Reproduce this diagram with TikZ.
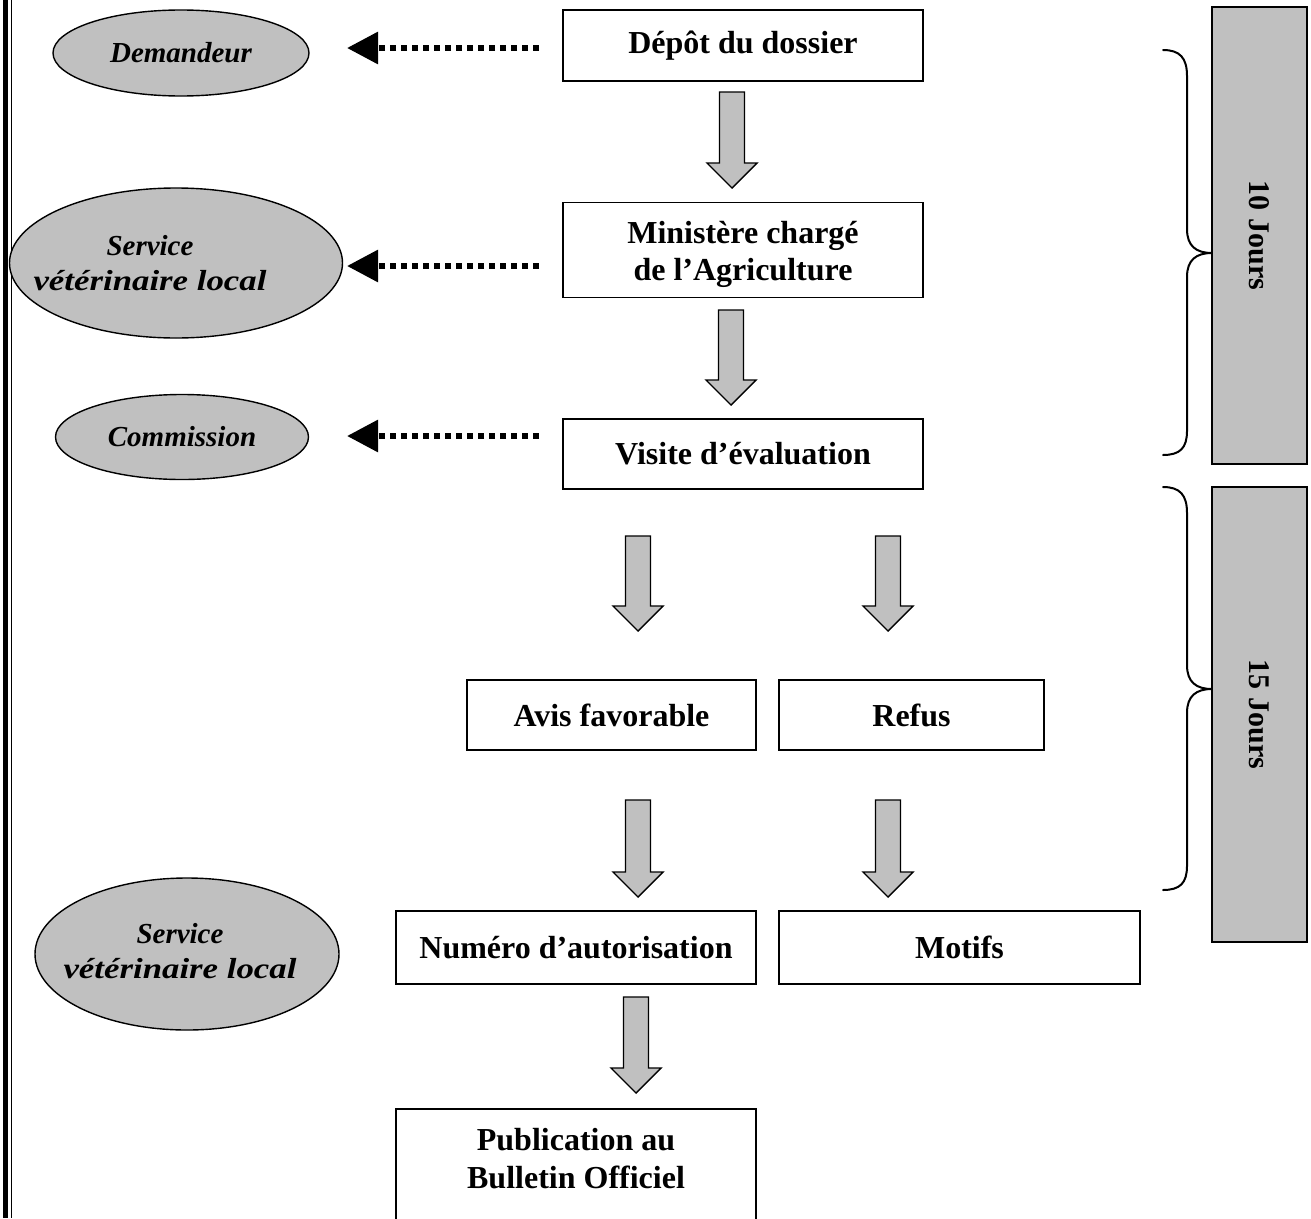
\documentclass[tikz,border=0pt]{standalone}
\usepackage{fontspec}
\setmainfont{Liberation Serif}
\usetikzlibrary{shapes.geometric,arrows.meta}
\definecolor{boxgray}{HTML}{C0C0C0}
\newcommand\fatarrow[3]{%
  \draw[fatarr] (#1-12.5,#2) -- (#1+12.5,#2) -- (#1+12.5,#3-25) -- (#1+25,#3-25)
    -- (#1,#3) -- (#1-25,#3-25) -- (#1-12.5,#3-25) -- cycle;}
\newcommand\wideline[1]{\scalebox{1.2}[1]{#1}}
\begin{document}
\begin{tikzpicture}[x=1pt,y=-1pt,
  stepbox/.style={draw, line width=1.8pt, fill=white, inner sep=0pt, align=center,
     font=\fontsize{32}{37}\selectfont\bfseries},
  actor/.style={ellipse, draw, line width=1.4pt, fill=boxgray, inner sep=0pt, align=center,
     font=\fontsize{29}{35}\selectfont\bfseries\itshape},
  actortext/.style={inner sep=0pt, align=center,
     font=\fontsize{29}{35}\selectfont\bfseries\itshape},
  fatarr/.style={draw, line width=1.4pt, fill=boxgray, line join=miter},
  dotarr/.style={line width=6pt, dash pattern=on 6pt off 5pt,
     -{Triangle[length=31pt,width=31pt]}},
  daybox/.style={draw, line width=1.6pt, fill=boxgray, inner sep=0pt},
  brace/.style={line width=2pt, line cap=round}
]
\useasboundingbox (0,0) rectangle (1311,1218);
\clip (0,0) rectangle (1311,1218);
\fill[white] (0,0) rectangle (1311,1218);

% left double border
\draw[line width=5.5pt] (5.5,0) -- (5.5,1218);
\draw[line width=1.3pt] (11.3,0) -- (11.3,1218);

% process boxes
\node[stepbox, minimum width=360, minimum height=71] (dep) at (743,45.5) {Dépôt du dossier};
\node[stepbox, minimum width=360, minimum height=95] (min) at (743,250) {};
\node[inner sep=0pt, align=center, font=\fontsize{32}{37}\selectfont\bfseries] (mintext) at (743,254) {Ministère chargé\\de l’Agriculture};
\node[stepbox, minimum width=360, minimum height=70] (vis) at (743,454) {Visite d’évaluation};
\node[stepbox, minimum width=289, minimum height=70] (avis) at (611.5,715) {Avis favorable};
\node[stepbox, minimum width=265, minimum height=70] (ref) at (911.5,715) {Refus};
\node[stepbox, minimum width=360, minimum height=73] (num) at (576,947.5) {Numéro d’autorisation};
\node[stepbox, minimum width=361, minimum height=73] (mot) at (959.5,947.5) {Motifs};
\node[stepbox, anchor=north, minimum width=360, minimum height=160] (pub) at (576,1108) {};
\node[inner sep=0pt, align=center, font=\fontsize{32}{38}\selectfont\bfseries] (pubtext) at (576,1159) {Publication au\\Bulletin Officiel};

% actors
\node[actor, minimum width=256, minimum height=86] (dem) at (181,53) {Demandeur};
\node[actor, minimum width=333, minimum height=150] (svc1) at (176,263) {};
\node[actortext] (svc1t) at (150,263.5) {Service\\\wideline{vétérinaire local}};
\node[actor, minimum width=253, minimum height=85] (com) at (182,437) {Commission};
\node[actor, minimum width=304, minimum height=152] (svc2) at (187,954) {};
\node[actortext] (svc2t) at (180,951) {Service\\\wideline{vétérinaire local}};

% dotted arrows
\coordinate (d1) at (539,48);
\coordinate (d2) at (539,266);
\coordinate (d3) at (539,436);
\coordinate (t1) at (347,48);
\coordinate (t2) at (347,266);
\coordinate (t3) at (347,436);
\draw[dotarr] (d1) -- (t1);
\draw[dotarr] (d2) -- (t2);
\draw[dotarr] (d3) -- (t3);

% fat arrows
\fatarrow{732}{92}{188}
\fatarrow{731}{310}{405}
\fatarrow{638}{536}{631}
\fatarrow{888}{536}{631}
\fatarrow{638}{800}{897}
\fatarrow{888}{800}{897}
\fatarrow{636}{997}{1093}

% duration boxes
\node[daybox, minimum width=95, minimum height=457] (j10) at (1259.5,235.5) {};
\node[rotate=-90, font=\fontsize{30}{36}\selectfont\bfseries] (j10t) at (j10.center) {10 Jours};
\node[daybox, minimum width=95, minimum height=455] (j15) at (1259.5,714.5) {};
\node[rotate=-90, font=\fontsize{30}{36}\selectfont\bfseries] (j15t) at (j15.center) {15 Jours};

% braces
\draw[brace] (1163,50) .. controls (1180,50) and (1187,58) .. (1187,76)
  -- (1187,229) .. controls (1187,246) and (1196,253) .. (1212,253)
  .. controls (1196,253) and (1187,260) .. (1187,277)
  -- (1187,431) .. controls (1187,448) and (1180,455) .. (1163,455);
\draw[brace] (1163,487) .. controls (1180,487) and (1187,495) .. (1187,513)
  -- (1187,665) .. controls (1187,682) and (1196,689) .. (1212,689)
  .. controls (1196,689) and (1187,696) .. (1187,713)
  -- (1187,866) .. controls (1187,883) and (1180,890) .. (1163,890);
\end{tikzpicture}
\end{document}
